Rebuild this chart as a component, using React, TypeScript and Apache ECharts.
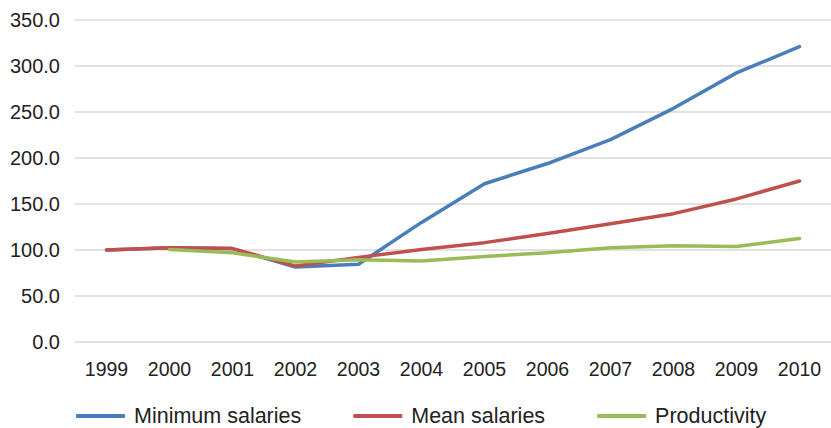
import React, { useEffect, useRef } from "react";
import * as echarts from "echarts";

const years = ["1999", "2000", "2001", "2002", "2003", "2004", "2005", "2006", "2007", "2008", "2009", "2010"];
const minimumSalaries = [100.0, 102.5, 101.5, 81.5, 84.5, 130.0, 172.0, 194.0, 220.0, 254.0, 292.5, 321.0];
const meanSalaries = [100.0, 102.5, 101.5, 82.5, 92.0, 100.5, 108.0, 118.0, 128.5, 139.5, 155.5, 175.0];
const productivity = [null, 100.5, 97.0, 87.0, 89.5, 88.0, 93.0, 97.0, 102.5, 104.5, 103.8, 112.5];

const BLUE = "#4a7ebb";
const RED = "#c0504d";
const GREEN = "#9bbb59";

export default function App() {
  const ref = useRef<HTMLDivElement>(null);

  useEffect(() => {
    if (!ref.current) return;
    const chart = echarts.init(ref.current, null, { renderer: "svg" });
    const lineSeries = (name: string, data: (number | null)[], color: string) => ({
      name,
      type: "line",
      data,
      symbol: "none",
      smooth: false,
      lineStyle: { color, width: 3.5, cap: "round", join: "round" },
      itemStyle: { color },
    });
    chart.setOption({
      animation: false,
      backgroundColor: "#ffffff",
      textStyle: { fontFamily: "Liberation Sans, Arial, sans-serif" },
      grid: { left: 75, right: 0, top: 20, bottom: 86, containLabel: false },
      xAxis: {
        type: "category",
        data: years,
        boundaryGap: true,
        axisLine: { show: false },
        axisTick: { show: false },
        axisLabel: { color: "#222", fontSize: 19.5, margin: 17 },
      },
      yAxis: {
        type: "value",
        min: 0,
        max: 350,
        interval: 50,
        axisLine: { show: false },
        axisTick: { show: false },
        splitLine: { lineStyle: { color: "#d9d9d9", width: 1.5 } },
        axisLabel: {
          color: "#222",
          fontSize: 20,
          margin: 15,
          formatter: (v: number) => v.toFixed(1),
        },
      },
      legend: {
        left: 76,
        top: 405,
        padding: 0,
        icon: "roundRect",
        itemWidth: 49,
        itemHeight: 4,
        itemGap: 52,
        textStyle: {
          color: "#222",
          fontSize: 21.5,
          padding: [0, 0, 0, 4],
        },
        data: ["Minimum salaries", "Mean salaries", "Productivity"],
      },
      series: [
        lineSeries("Minimum salaries", minimumSalaries, BLUE),
        lineSeries("Mean salaries", meanSalaries, RED),
        lineSeries("Productivity", productivity, GREEN),
      ],
    });
    return () => chart.dispose();
  }, []);

  return (
    <div
      ref={ref}
      style={{ position: "fixed", left: 0, top: 0, width: 831, height: 428 }}
    />
  );
}
